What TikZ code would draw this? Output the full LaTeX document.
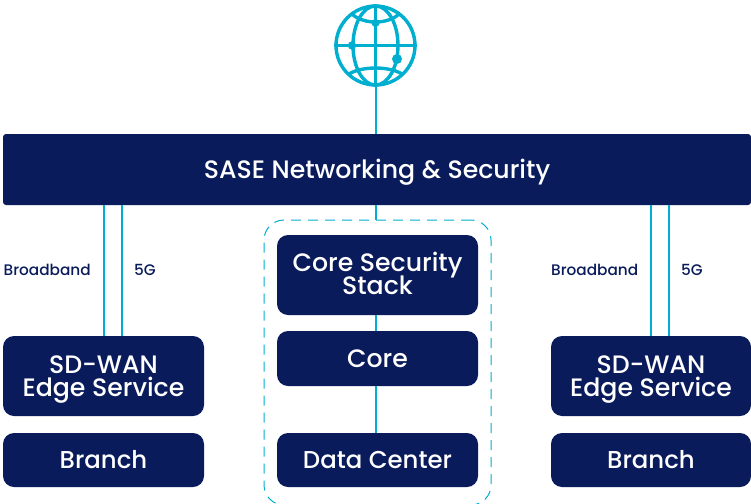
\documentclass[tikz,border=0pt]{standalone}
\usepackage{fontspec}
\setmainfont{Poppins}[UprightFont=* Medium, BoldFont=* SemiBold]
\definecolor{navy}{HTML}{0A1B5C}
\definecolor{cy}{HTML}{00AECF}
\lineskiplimit=-100pt
\begin{document}
\begin{tikzpicture}[x=1pt,y=-1pt,
  box/.style={fill=navy,draw=none,rounded corners=11pt,text=white,inner sep=0pt,align=center,font=\fontsize{25.2}{23}\selectfont},
  short/.style={font=\fontsize{24.4}{23}\selectfont},
  link/.style={cy,line width=2pt},
  lab/.style={text=navy,inner sep=0pt,font=\fontsize{15.3}{18}\selectfont},
  globe/.style={cy,line width=3.4pt}]
\useasboundingbox (0,0) rectangle (751,503);
\node[box,rounded corners=3pt,minimum width=748pt,minimum height=71pt,text height=17pt,text depth=0pt] (sase) at (377,169.5) {SASE Networking \& Security};
\node[draw=cy,dash pattern=on 10pt off 7pt,line width=1pt,rounded corners=20pt,minimum width=227pt,minimum height=285pt,inner sep=0pt] (dc) at (377.5,362.5) {};
\node[box,minimum width=201pt,minimum height=80pt] (stack) at (377.5,275) {Core Security\\Stack\rule[-3pt]{0pt}{3pt}};
\node[box,minimum width=201pt,minimum height=55pt] (core) at (377.5,358.5) {Core};
\node[box,short,minimum width=201pt,minimum height=54pt] (data) at (377.5,460) {Data Center};
\node[box,minimum width=201pt,minimum height=80pt] (edgeL) at (103.5,376) {\rule{0pt}{25pt}SD-WAN\\Edge Service};
\node[box,short,minimum width=201pt,minimum height=54pt] (branchL) at (103.5,460) {Branch};
\node[box,minimum width=200pt,minimum height=80pt] (edgeR) at (651,376) {\rule{0pt}{25pt}SD-WAN\\Edge Service};
\node[box,short,minimum width=200pt,minimum height=54pt] (branchR) at (651,460) {Branch};
\node[lab,anchor=west] (bbL) at (3.5,270) {Broadband};
\node[lab,anchor=west] (gL) at (134,270) {5G};
\node[lab,anchor=west] (bbR) at (551,270) {Broadband};
\node[lab,anchor=west] (gR) at (681,270) {5G};
% globe
\node[globe,draw,circle,minimum size=79pt,inner sep=0pt] (globe) at (375.5,45.5) {};
\draw[globe] (globe.north) -- (globe.south);
\draw[globe] (globe.west) -- (globe.east);
\draw[globe] (375.5,45.5) ellipse (22.5pt and 39.5pt);
\draw[globe] (351,13) .. controls (362,25) and (389,25) .. (400,13);
\draw[globe] (349,74) .. controls (362,66) and (389,66) .. (402,74);
\fill[cy] (375.5,23) circle (4pt) (352,45.5) circle (4.2pt) (397,59) circle (5pt);
% connectors
\draw[link] (globe.south) -- (sase.north -| globe.south);
\draw[link] (sase.south -| globe.south) -- (dc.north -| globe.south);
\draw[link] (stack.south -| globe.south) -- (core.north -| globe.south);
\draw[link] (core.south -| globe.south) -- (data.north -| globe.south);
\path (edgeL.north) ++(0.5,0) coordinate (l1) ++(18,0) coordinate (l2);
\path (edgeR.north) ++(0,0) coordinate (r1) ++(18,0) coordinate (r2);
\draw[link] (sase.south -| l1) -- (l1);
\draw[link] (sase.south -| l2) -- (l2);
\draw[link] (sase.south -| r1) -- (r1);
\draw[link] (sase.south -| r2) -- (r2);
\end{tikzpicture}
\end{document}
